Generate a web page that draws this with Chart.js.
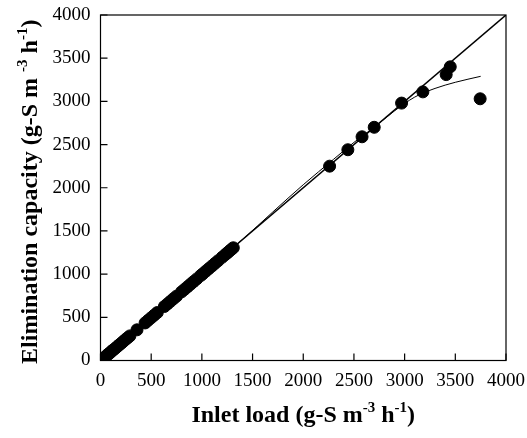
<!DOCTYPE html>
<html>
<head>
<meta charset="utf-8">
<script src="https://cdn.jsdelivr.net/npm/chart.js@4/dist/chart.umd.min.js"></script>
<style>
  html, body { margin: 0; padding: 0; background: #fff; }
  #wrap { width: 527px; height: 438px; }
</style>
</head>
<body>
<div id="wrap"><canvas id="c" width="527" height="438"></canvas></div>
<script>
// measured points: inlet load vs elimination capacity
var loadX = [5, 15, 25, 40, 55, 70, 85, 100, 115, 130, 150, 170, 190, 210, 230, 250, 270, 290,
  360, 440, 470, 500, 530, 560, 630, 660, 690, 720, 750, 800, 830, 860, 890, 920, 950,
  990, 1010, 1040, 1070, 1100, 1130, 1160, 1200, 1230, 1250, 1270, 1290, 1310,
  2260, 2440, 2580, 2700, 2970, 3180, 3410, 3450, 3745];
var capY  = [5, 12, 22, 38, 50, 68, 80, 96, 112, 126, 145, 166, 186, 205, 226, 246, 265, 285,
  355, 435, 465, 495, 525, 555, 625, 655, 685, 715, 745, 795, 825, 855, 885, 915, 945,
  985, 1005, 1035, 1065, 1095, 1125, 1155, 1195, 1225, 1245, 1265, 1285, 1305,
  2250, 2440, 2590, 2700, 2980, 3110, 3310, 3400, 3030];

// 100 % removal line
var lineX = [0, 4000];
var lineY = [0, 4000];

// fitted curve
var fitX = [0, 500, 1000, 1400, 1700, 2000, 2300, 2500, 2700, 2900, 3100, 3300, 3500, 3750];
var fitY = [0, 500, 1000, 1400, 1720, 2035, 2330, 2525, 2700, 2890, 3050, 3150, 3221, 3290];

var axisTicks = [0, 500, 1000, 1500, 2000, 2500, 3000, 3500, 4000];

var FONT = "'Liberation Serif', 'Times New Roman', serif";

function pairs(xs, ys) {
  return xs.map(function(x, i) { return {x: x, y: ys[i]}; });
}

function drawRich(ctx, parts, cx, y, size) {
  var total = 0;
  parts.forEach(function(p) {
    ctx.font = 'bold ' + (p.sup ? Math.round(size * 0.62) : size) + 'px ' + FONT;
    p.w = ctx.measureText(p.t).width;
    total += p.w;
  });
  var x = cx - total / 2;
  ctx.textAlign = 'left';
  ctx.textBaseline = 'alphabetic';
  parts.forEach(function(p) {
    ctx.font = 'bold ' + (p.sup ? Math.round(size * 0.62) : size) + 'px ' + FONT;
    ctx.fillText(p.t, x, p.sup ? y - size * 0.42 : y);
    x += p.w;
  });
}

var framePlugin = {
  id: 'frame',
  afterDraw: function(chart) {
    var ctx = chart.ctx, a = chart.chartArea;
    var xs = chart.scales.x, ys = chart.scales.y;
    ctx.save();
    ctx.strokeStyle = '#000';
    ctx.lineWidth = 1.2;
    ctx.strokeRect(a.left, a.top, a.right - a.left, a.bottom - a.top);
    // inward tick marks
    ctx.beginPath();
    xs.ticks.forEach(function(t) {
      var px = xs.getPixelForValue(t.value);
      ctx.moveTo(px, a.bottom);
      ctx.lineTo(px, a.bottom - 7);
    });
    ys.ticks.forEach(function(t) {
      var py = ys.getPixelForValue(t.value);
      ctx.moveTo(a.left, py);
      ctx.lineTo(a.left + 7, py);
    });
    ctx.stroke();

    ctx.fillStyle = '#000';
    drawRich(ctx, [
      {t: 'Inlet load (g-S m'}, {t: '-3', sup: true}, {t: ' h'}, {t: '-1', sup: true}, {t: ')'}
    ], (a.left + a.right) / 2, 422, 24);

    ctx.translate(37, (a.top + a.bottom) / 2 + 4);
    ctx.rotate(-Math.PI / 2);
    drawRich(ctx, [
      {t: 'Elimination capacity (g-S m '}, {t: '-3', sup: true}, {t: ' h'}, {t: '-1', sup: true}, {t: ')'}
    ], 0, 0, 24);
    ctx.restore();
  }
};

function plain(v) { return String(v); }

new Chart(document.getElementById('c'), {
  type: 'scatter',
  data: {
    datasets: [
      {
        data: pairs(loadX, capY),
        backgroundColor: '#000',
        borderColor: '#000',
        pointRadius: 6,
        pointHoverRadius: 6
      },
      {
        type: 'line',
        data: pairs(lineX, lineY),
        borderColor: '#000',
        borderWidth: 1.5,
        pointRadius: 0,
        fill: false
      },
      {
        type: 'line',
        data: pairs(fitX, fitY),
        borderColor: '#000',
        borderWidth: 1,
        pointRadius: 0,
        cubicInterpolationMode: 'monotone',
        fill: false
      }
    ]
  },
  options: {
    responsive: false,
    animation: false,
    layout: { padding: { top: 15, right: 21, left: 0, bottom: 0 } },
    plugins: { legend: { display: false }, tooltip: { enabled: false } },
    scales: {
      x: {
        type: 'linear', min: 0, max: 4000,
        afterBuildTicks: function(s) { s.ticks = axisTicks.map(function(v) { return {value: v}; }); },
        afterFit: function(s) { s.height = 77.5; s.paddingLeft = 0; s.paddingRight = 0; },
        grid: { display: false, drawTicks: false },
        border: { display: false },
        ticks: { color: '#000', padding: 9, maxRotation: 0, callback: plain, font: { family: FONT, size: 19 } }
      },
      y: {
        type: 'linear', min: 0, max: 4000,
        afterBuildTicks: function(s) { s.ticks = axisTicks.map(function(v) { return {value: v}; }); },
        afterFit: function(s) { s.width = 100.5; s.paddingTop = 0; s.paddingBottom = 0; },
        grid: { display: false, drawTicks: false },
        border: { display: false },
        ticks: { color: '#000', padding: 10, callback: plain, font: { family: FONT, size: 19 } }
      }
    }
  },
  plugins: [framePlugin]
});
</script>
</body>
</html>
